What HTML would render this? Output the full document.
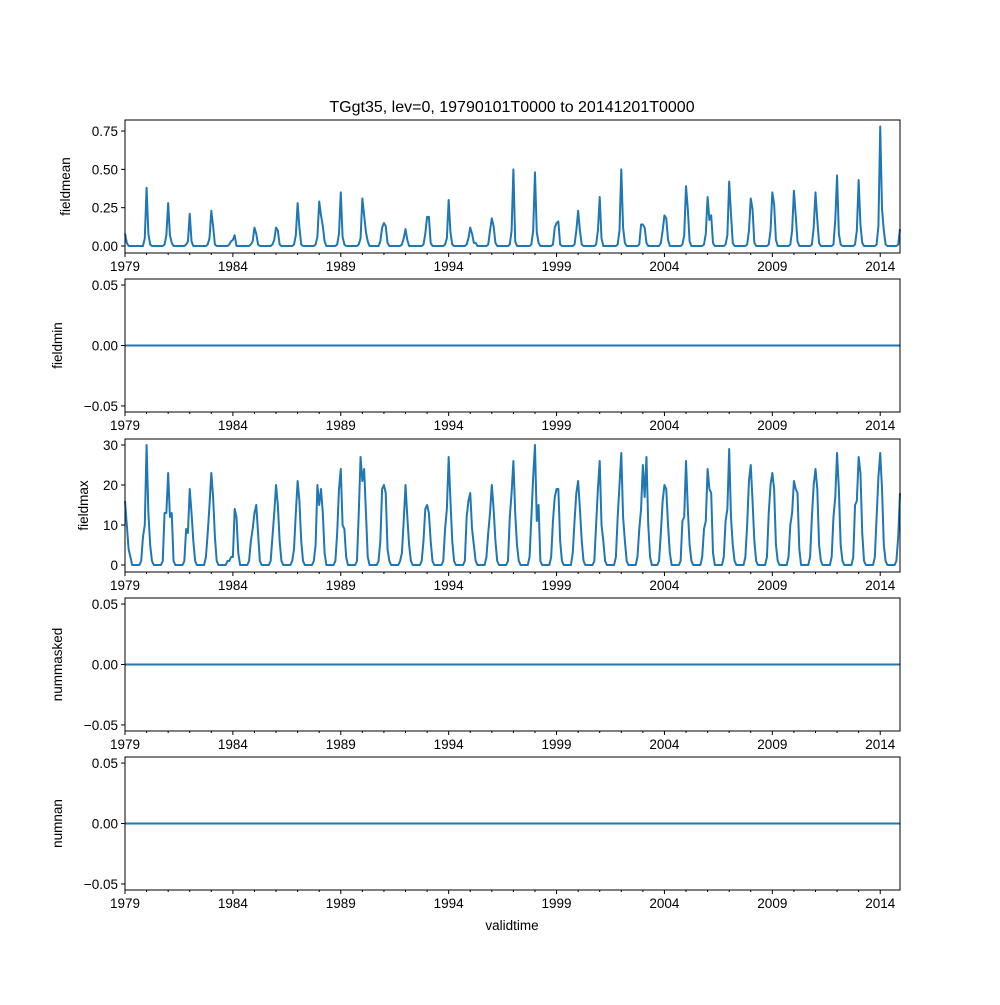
<!DOCTYPE html>
<html><head><meta charset="utf-8"><style>
body{margin:0;background:#fff}
svg text{font-family:"Liberation Sans","DejaVu Sans",sans-serif;font-size:13.5px;fill:#000}
</style></head><body>
<svg id="fig" width="1000" height="1000" xmlns="http://www.w3.org/2000/svg">
<rect width="1000" height="1000" fill="#fff"/>
<text x="512" y="112" text-anchor="middle" style="font-size:16px">TGgt35, lev=0, 19790101T0000 to 20141201T0000</text>
<text x="512" y="930" text-anchor="middle">validtime</text>
</svg>
<script>
const startYear = 1979;
const fieldmeanRows = [
[.08,.02,0,0,0,0,0,0,0,0,0,.05],
[.38,.08,.01,0,0,0,0,0,0,0,.01,.07],
[.28,.07,.02,0,0,0,0,0,0,0,.01,.03],
[.21,.03,0,0,0,0,0,0,0,0,.01,.05],
[.23,.13,.01,0,0,0,0,0,0,0,.01,.03],
[.04,.07,0,0,0,0,0,0,0,0,.01,.03],
[.12,.08,.01,0,0,0,0,0,0,0,.01,.04],
[.12,.10,.01,0,0,0,0,0,0,0,.01,.07],
[.28,.12,.01,0,0,0,0,0,0,0,.01,.06],
[.29,.20,.13,.03,0,0,0,0,0,0,.01,.08],
[.35,.06,.01,0,0,0,0,0,0,0,.01,.05],
[.31,.20,.09,.03,0,0,0,0,0,0,.03,.12],
[.15,.13,.02,0,0,0,0,0,0,0,.01,.05],
[.11,.04,0,0,0,0,0,0,0,0,.01,.08],
[.19,.19,.02,0,0,0,0,0,0,0,.01,.05],
[.30,.09,.01,0,0,0,0,0,0,0,.01,.05],
[.12,.08,.02,.02,0,0,0,0,0,0,.01,.10],
[.18,.13,.02,0,0,0,0,0,0,0,.01,.10],
[.50,.03,0,0,0,0,0,0,0,0,.01,.10],
[.48,.09,.02,0,0,0,0,0,0,0,.01,.12],
[.15,.16,.01,0,0,0,0,0,0,0,.01,.10],
[.23,.10,.01,0,0,0,0,0,0,0,.01,.10],
[.32,.05,0,0,0,0,0,0,0,0,.01,.10],
[.50,.12,.02,0,0,0,0,0,0,0,.01,.14],
[.14,.12,.02,0,0,0,0,0,0,0,.02,.10],
[.20,.18,.04,0,0,0,0,0,0,0,.01,.07],
[.39,.24,.03,0,0,0,0,0,0,0,.01,.08],
[.32,.17,.20,.02,0,0,0,0,0,0,.01,.07],
[.42,.21,.02,0,0,0,0,0,0,0,.01,.10],
[.31,.24,.02,0,0,0,0,0,0,0,.01,.10],
[.35,.27,.04,0,0,0,0,0,0,0,.01,.10],
[.36,.20,.03,0,0,0,0,0,0,0,.01,.12],
[.35,.17,.02,0,0,0,0,0,0,0,.01,.17],
[.46,.08,.01,0,0,0,0,0,0,0,.01,.10],
[.43,.14,.02,0,0,0,0,0,0,0,.01,.13],
[.78,.24,.10,.01,0,0,0,0,0,0,.01,.11]];
const fieldmaxRows = [
[16,10,4,2,0,0,0,0,0,1,7,10],
[30,13,5,1,0,0,0,0,0,1,13,13],
[23,12,13,1,0,0,0,0,0,1,9,8],
[19,13,6,1,0,0,0,0,0,2,8,15],
[23,17,7,1,0,0,0,0,0,1,1,2],
[2,14,12,3,0,0,0,0,0,1,6,9],
[13,15,8,1,0,0,0,0,0,1,7,13],
[20,15,6,1,0,0,0,0,0,1,4,13],
[21,16,6,1,0,0,0,0,0,1,5,20],
[15,19,13,3,0,0,0,0,0,1,8,19],
[24,10,9,2,0,0,0,0,0,1,13,27],
[21,24,13,2,0,0,0,0,0,1,6,19],
[20,18,4,1,0,0,0,0,0,1,3,11],
[20,12,5,1,0,0,0,0,0,1,6,14],
[15,13,6,1,0,0,0,0,0,1,9,14],
[27,16,6,1,0,0,0,0,0,1,12,16],
[18,9,5,1,0,0,0,0,0,2,8,13],
[20,14,6,1,0,0,0,0,0,1,12,18],
[26,13,5,1,0,0,0,0,0,2,12,22],
[30,11,15,1,0,0,0,0,0,2,11,17],
[19,19,6,1,0,0,0,0,0,3,11,18],
[21,14,6,1,0,0,0,0,0,1,10,19],
[26,10,6,1,0,0,0,0,0,2,12,20],
[28,12,6,1,0,0,0,0,0,2,9,14],
[25,17,27,10,2,0,0,0,0,1,8,16],
[20,19,10,3,0,0,0,0,0,1,11,12],
[26,14,5,1,0,0,0,0,0,2,9,11],
[24,19,18,3,0,0,0,0,0,2,11,14],
[29,12,5,1,0,0,0,0,0,2,10,21],
[25,16,6,1,0,0,0,0,0,2,13,20],
[23,19,5,1,0,0,0,0,0,2,10,13],
[21,19,18,4,0,0,0,0,0,2,12,20],
[24,19,5,1,0,0,0,0,0,2,12,17],
[28,19,5,1,0,0,0,0,0,2,15,16],
[27,23,8,1,0,0,0,0,0,2,12,22],
[28,19,5,1,0,0,0,0,0,1,7,18]];
const xTickLabels = ["1979","1984","1989","1994","1999","2004","2009","2014"];
const meanTicks = [0, 0.25, 0.5, 0.75];
const meanTickLabels = ["0.00","0.25","0.50","0.75"];
const maxTicks = [0, 10, 20, 30];
const maxTickLabels = ["0","10","20","30"];
const zeroTicks = [-0.05, 0, 0.05];
const zeroTickLabels = ["−0.05","0.00","0.05"];

const NS = "http://www.w3.org/2000/svg";
const svg = document.getElementById('fig');
function mk(tag, attrs, parent){const e=document.createElementNS(NS,tag);for(const k in attrs)e.setAttribute(k,attrs[k]);(parent||svg).appendChild(e);return e;}
const X0=125, X1=900;
const nMonths = fieldmeanRows.length*12;
const xScale = i => X0 + (X1-X0)*i/(nMonths-1);
const flat = rows => rows.flat();
const meanData = flat(fieldmeanRows);
const maxData = flat(fieldmaxRows);
const zeroData = meanData.map(()=>0);

const panels = [
 {name:"fieldmean", top:120, bot:253, ymin:-0.0457, ymax:0.822, data:meanData, ticks:meanTicks, labels:meanTickLabels, lx:70},
 {name:"fieldmin", top:279, bot:412, ymin:-0.055, ymax:0.055, data:zeroData, ticks:zeroTicks, labels:zeroTickLabels, lx:62},
 {name:"fieldmax", top:439, bot:572, ymin:-1.75, ymax:31.5, data:maxData, ticks:maxTicks, labels:maxTickLabels, lx:88},
 {name:"nummasked", top:598, bot:731, ymin:-0.055, ymax:0.055, data:zeroData, ticks:zeroTicks, labels:zeroTickLabels, lx:62},
 {name:"numnan", top:757, bot:890, ymin:-0.055, ymax:0.055, data:zeroData, ticks:zeroTicks, labels:zeroTickLabels, lx:62}
];
panels.forEach(p=>{
  const g = mk('g',{});
  
  
  const y = v => p.bot - (p.bot-p.top)*(v-p.ymin)/(p.ymax-p.ymin);
  let d='';
  p.data.forEach((v,i)=>{d+=(i?'L':'M')+xScale(i).toFixed(2)+','+y(v).toFixed(2);});
  const line = mk('path',{d:d,fill:'none',stroke:'#1f77b4','stroke-width':2,'stroke-linejoin':'round'},g);
  
  
  const frame = mk('rect',{x:X0,y:p.top,width:X1-X0,height:p.bot-p.top,fill:'none',stroke:'#000','stroke-width':1},g);
  
  
  p.ticks.forEach((t,k)=>{
    const yy=y(t);
    mk('line',{x1:X0-4,x2:X0,y1:yy,y2:yy,stroke:'#000'},g);
    const tl = mk('text',{x:X0-7,y:yy+5,'text-anchor':'end'},g);
    tl.textContent = p.labels[k];
    
    
  });
  for(let yr=0; yr<fieldmeanRows.length; yr++){
    const xx = xScale(yr*12);
    const major = yr%5===0;
    mk('line',{x1:xx,x2:xx,y1:p.bot,y2:p.bot+(major?4:2),stroke:'#000'},g);
    if(major){
      const xl = mk('text',{x:xx,y:p.bot+18,'text-anchor':'middle'},g);
      xl.textContent = xTickLabels[yr/5];
      
      
    }
  }
  const cy=(p.top+p.bot)/2;
  const yl = mk('text',{x:p.lx,y:cy,'text-anchor':'middle',transform:`rotate(-90 ${p.lx} ${cy})`},g);
  yl.textContent = p.name;
  
  
});
</script>
</body></html>
